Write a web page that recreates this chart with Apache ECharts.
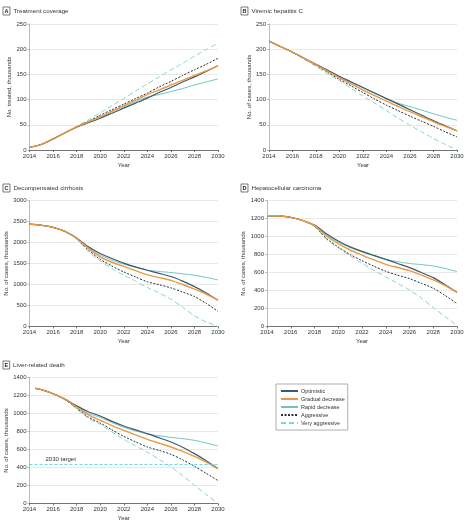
<!DOCTYPE html>
<html><head><meta charset="utf-8">
<script src="https://cdn.jsdelivr.net/npm/echarts@6/dist/echarts.min.js"></script>
<style>html,body{margin:0;padding:0;background:#fff}#c{width:467px;height:528px}</style>
</head><body><div id="c"></div>
<script>
const scenarios = ['Optimistic', 'Gradual decrease', 'Rapid decrease', 'Aggressive', 'Very aggressive'];
const years = [2014,2015,2016,2017,2018,2019,2020,2021,2022,2023,2024,2025,2026,2027,2028,2029,2030];
const yearsE = [2014.5,2015,2016,2017,2018,2019,2020,2021,2022,2023,2024,2025,2026,2027,2028,2029,2030];
const xTicks = [2014, 2030, 2];

// A: Treatment coverage (thousands)
const aOptimistic = [5,11,22,34,45,54,63,73,83,93,103,114,124,135,145,156,167];
const aGradual    = [5,11,22,34,46,56,66,77,88,99,110,119,129,138,148,157,167];
const aRapid      = [5,11,22,34,46,56,66,76,86,96,105,110,116,122,129,135,141];
const aAggressive = [5,11,22,34,46,57,69,80,91,102,113,125,136,148,159,170,182];
const aVeryAggr   = [5,11,22,34,47,60,74,88,102,117,131,145,159,172,186,199,212];

// B: Viremic hepatitis C
const bOptimistic = [216,205,194,182,170,158,146,135,124,113,102,91,80,69,58,48,38];
const bGradual    = [216,205,194,182,169,156,143,131,119,108,97,86,76,66,56,47,38];
const bRapid      = [216,205,194,182,169,157,145,134,123,112,102,93,86,79,72,65,59];
const bAggressive = [216,205,194,181,168,154,140,127,114,101,89,78,67,57,47,36,26];
const bVeryAggr   = [216,205,193,180,166,151,137,122,107,93,78,63,49,36,23,11,0];

// C: Decompensated cirrhosis
const cOptimistic = [2436,2410,2360,2265,2110,1900,1740,1620,1510,1420,1340,1265,1190,1080,950,800,627];
const cGradual    = [2436,2410,2360,2265,2100,1860,1660,1530,1430,1330,1230,1165,1100,1000,890,770,627];
const cRapid      = [2436,2410,2360,2265,2100,1880,1700,1580,1485,1410,1340,1310,1285,1255,1220,1170,1110];
const cAggressive = [2436,2410,2360,2265,2090,1820,1600,1440,1300,1180,1065,995,920,820,715,550,360];
const cVeryAggr   = [2436,2410,2360,2265,2080,1780,1560,1380,1220,1080,930,800,650,460,255,110,0];

// D: Hepatocellular carcinoma
const dOptimistic = [1230,1230,1212,1178,1127,1030,950,885,835,790,746,700,654,600,543,465,380];
const dGradual    = [1230,1230,1212,1178,1120,1005,920,850,794,740,691,655,620,570,517,455,380];
const dRapid      = [1230,1230,1212,1178,1120,1015,938,878,827,785,746,720,700,688,672,645,610];
const dAggressive = [1230,1230,1212,1178,1115,980,883,800,731,670,613,570,532,480,425,345,255];
const dVeryAggr   = [1230,1230,1212,1178,1110,970,872,785,702,625,550,480,406,315,211,110,10];

// E: Liver-related death
const eOptimistic = [1280,1265,1220,1160,1085,1020,972,912,861,818,776,730,683,625,554,475,388];
const eGradual    = [1280,1265,1220,1160,1070,985,924,865,813,762,713,670,628,580,524,460,385];
const eRapid      = [1280,1265,1220,1160,1075,1000,957,900,846,808,772,752,735,720,702,672,640];
const eAggressive = [1280,1265,1220,1155,1060,960,894,818,746,685,628,590,547,485,414,335,255];
const eVeryAggr   = [1280,1265,1220,1155,1050,945,880,795,713,640,572,490,406,310,203,100,0];
const eTarget = 436;
const targetLabel = '2030 target';

const panels = [
  {letter:'A', title:'Treatment coverage', yName:'No. treated, thousands', yMax:250, yInt:50, x:years,
   data:[aOptimistic,aGradual,aRapid,aAggressive,aVeryAggr]},
  {letter:'B', title:'Viremic hepatitis C', yName:'No. of cases, thousands', yMax:250, yInt:50, x:years,
   data:[bOptimistic,bGradual,bRapid,bAggressive,bVeryAggr]},
  {letter:'C', title:'Decompensated cirrhosis', yName:'No. of cases, thousands', yMax:3000, yInt:500, x:years,
   data:[cOptimistic,cGradual,cRapid,cAggressive,cVeryAggr]},
  {letter:'D', title:'Hepatocellular carcinoma', yName:'No. of cases, thousands', yMax:1400, yInt:200, x:years,
   data:[dOptimistic,dGradual,dRapid,dAggressive,dVeryAggr]},
  {letter:'E', title:'Liver-related death', yName:'No. of cases, thousands', yMax:1400, yInt:200, x:yearsE,
   data:[eOptimistic,eGradual,eRapid,eAggressive,eVeryAggr]}
];

// layout
const grids = [
  {left:29.5, top:24, width:188.5, height:126},
  {left:269, top:24, width:188, height:126},
  {left:29.5, top:200.5, width:188.5, height:126},
  {left:267, top:200.5, width:190, height:126},
  {left:29.5, top:377.5, width:188.5, height:126}
];
const titlePos = [
  {left:3, top:7}, {left:241, top:7}, {left:3, top:184}, {left:241, top:184}, {left:3, top:361}
];
const styles = [
  {color:'#3c5a6c', width:1.2, type:'solid'},
  {color:'#ec9942', width:1.4, type:'solid'},
  {color:'#6fc4c0', width:1, type:'solid'},
  {color:'#25313d', width:1, type:[2,1.5]},
  {color:'#86d2d2', width:1, type:[5,3]}
];
const FONT = 'Liberation Sans';
const txt = '#333';

const option = {
  animation:false,
  textStyle:{fontFamily:FONT},
  title: panels.map((p,i)=>({
    text:'{b|' + p.letter + '}  ' + p.title,
    left:titlePos[i].left, top:titlePos[i].top, padding:0,
    textStyle:{fontSize:6.2, fontWeight:'normal', color:txt, fontFamily:FONT,
      rich:{b:{fontSize:5.5, fontWeight:'bold', color:'#222', borderColor:'#444', borderWidth:0.7,
        padding:[1.5,1.5,0.5,1.5], fontFamily:FONT}}}
  })),
  legend:{
    data:scenarios, orient:'vertical', left:276, top:384,
    itemWidth:17, itemHeight:6, itemGap:2,
    itemStyle:{color:'rgba(0,0,0,0)', borderColor:'rgba(0,0,0,0)', borderWidth:0, opacity:0},
    textStyle:{fontSize:5.5, color:txt, fontFamily:FONT, padding:[0,0,0,-2]},
    borderColor:'#999', borderWidth:0.8, padding:[4,3,4,4], backgroundColor:'#fff'
  },
  grid: grids,
  xAxis: grids.map((g,i)=>({
    gridIndex:i, type:'value', min:xTicks[0], max:xTicks[1], interval:xTicks[2],
    name:'Year', nameLocation:'middle', nameGap:12,
    nameTextStyle:{fontSize:6, color:txt, fontFamily:FONT},
    axisLine:{lineStyle:{color:'#555', width:0.8}},
    axisTick:{show:true, length:2, lineStyle:{color:'#555', width:0.8}},
    axisLabel:{fontSize:6, color:txt, margin:3, fontFamily:FONT, formatter:v=>String(v)},
    splitLine:{show:false}
  })),
  yAxis: panels.map((p,i)=>({
    gridIndex:i, type:'value', min:0, max:p.yMax, interval:p.yInt,
    name:p.yName, nameLocation:'middle', nameGap:16, nameRotate:90,
    nameTextStyle:{fontSize:6, color:txt, fontFamily:FONT},
    axisLine:{show:true, lineStyle:{color:'#aaa', width:0.8}},
    axisTick:{show:true, length:2, lineStyle:{color:'#aaa', width:0.8}},
    axisLabel:{fontSize:6, color:txt, margin:3, fontFamily:FONT, formatter:v=>String(v)},
    splitLine:{show:true, lineStyle:{color:'#e2e2e2', width:0.8}}
  })),
  series: []
};

panels.forEach((p,i)=>{
  const order = [2,4,3,0,1];
  order.forEach(k=>{
    option.series.push({
      type:'line', name:scenarios[k], xAxisIndex:i, yAxisIndex:i,
      data:p.x.map((x,j)=>[x, p.data[k][j]]),
      smooth:0.25, symbol:'none', showSymbol:false,
      lineStyle:{color:styles[k].color, width:styles[k].width, type:styles[k].type, join:'round', cap:'butt'},
      itemStyle:{color:styles[k].color},
      z: k===1 ? 4 : 3
    });
  });
});

// target line on panel E
option.series.push({
  type:'line', name:'target', xAxisIndex:4, yAxisIndex:4, data:[], symbol:'none',
  markLine:{
    silent:true, symbol:'none',
    data:[{yAxis:eTarget}],
    lineStyle:{color:'#5fd4dc', width:0.9, type:[3,2]},
    label:{formatter:targetLabel, position:'insideStartTop', distance:[16,2],
      fontSize:6, color:txt, fontFamily:FONT}
  }
});

const chart = echarts.init(document.getElementById('c'), null, {renderer:'canvas'});
chart.setOption(option);
</script></body></html>
